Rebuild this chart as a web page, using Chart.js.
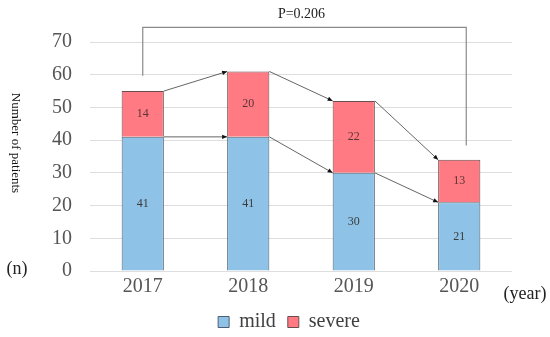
<!DOCTYPE html>
<html>
<head>
<meta charset="utf-8">
<script src="https://cdn.jsdelivr.net/npm/chart.js@4/dist/chart.umd.min.js"></script>
<style>
  html,body{margin:0;padding:0;background:#fff;}
  #wrap{width:550px;height:337px;position:relative;}
</style>
</head>
<body>
<div id="wrap"><canvas id="c" width="550" height="337"></canvas></div>
<script>
const categories = ['2017', '2018', '2019', '2020'];
const mildValues = [41, 41, 30, 21];
const severeValues = [14, 20, 22, 13];
const yTicks = [0, 10, 20, 30, 40, 50, 60, 70];
const pLabel = 'P=0.206';
const yTitle = 'Number of patients';

const SERIF = "'Liberation Serif', 'Times New Roman', serif";
Chart.defaults.font.family = SERIF;

const annotations = {
  id: 'annotations',
  afterLayout(chart) {
    if (chart.legend) { chart.legend.left += 13; chart.legend.right += 13; }
  },
  afterDatasetsDraw(chart) {
    const ctx = chart.ctx;
    const y = chart.scales.y;
    const mildMeta = chart.getDatasetMeta(0).data;
    const sevMeta = chart.getDatasetMeta(1).data;

    // value labels
    ctx.save();
    ctx.font = '12px ' + SERIF;
    ctx.textAlign = 'center';
    ctx.textBaseline = 'middle';
    mildMeta.forEach((b, i) => {
      ctx.fillStyle = '#3a3a3a';
      ctx.fillText(String(mildValues[i]), b.x, (b.y + b.base) / 2);
    });
    sevMeta.forEach((b, i) => {
      ctx.fillStyle = '#5a3535';
      ctx.fillText(String(severeValues[i]), b.x, (b.y + b.base) / 2);
    });
    ctx.restore();

    // connector arrows
    function arrow(x1, y1, x2, y2) {
      ctx.beginPath();
      ctx.moveTo(x1, y1);
      ctx.lineTo(x2, y2);
      ctx.stroke();
      const a = Math.atan2(y2 - y1, x2 - x1);
      const L = 5, W = 2.2;
      ctx.beginPath();
      ctx.moveTo(x2, y2);
      ctx.lineTo(x2 - L * Math.cos(a) + W * Math.sin(a), y2 - L * Math.sin(a) - W * Math.cos(a));
      ctx.lineTo(x2 - L * Math.cos(a) - W * Math.sin(a), y2 - L * Math.sin(a) + W * Math.cos(a));
      ctx.closePath();
      ctx.fill();
    }
    ctx.save();
    ctx.strokeStyle = '#555';
    ctx.fillStyle = '#111';
    ctx.lineWidth = 0.9;
    for (let i = 0; i < categories.length - 1; i++) {
      const a = sevMeta[i], b = sevMeta[i + 1];
      const aw = a.width / 2, bw = b.width / 2;
      arrow(a.x + aw, a.y, b.x - bw, b.y);
      const c = mildMeta[i], d = mildMeta[i + 1];
      arrow(c.x + aw, c.y, d.x - bw, d.y);
    }
    ctx.restore();

    // bracket
    const first = sevMeta[0], last = sevMeta[categories.length - 1];
    const lx = first.x, rx = last.x + 7;
    const topY = y.getPixelForValue(74.5);
    ctx.save();
    ctx.strokeStyle = '#8a8a8a';
    ctx.lineWidth = 1.2;
    ctx.beginPath();
    ctx.moveTo(lx, y.getPixelForValue(59.7));
    ctx.lineTo(lx, topY);
    ctx.lineTo(rx, topY);
    ctx.lineTo(rx, y.getPixelForValue(38.4));
    ctx.stroke();
    ctx.fillStyle = '#222';
    ctx.font = '14px ' + SERIF;
    ctx.textAlign = 'center';
    ctx.textBaseline = 'middle';
    ctx.fillText(pLabel, (lx + rx) / 2 - 3, topY - 13);
    ctx.restore();

    // axis titles
    ctx.save();
    ctx.fillStyle = '#111';
    ctx.font = '13px ' + SERIF;
    ctx.textAlign = 'center';
    ctx.textBaseline = 'middle';
    ctx.translate(15, 143);
    ctx.rotate(Math.PI / 2);
    ctx.fillText(yTitle, 0, 0);
    ctx.restore();

    ctx.save();
    ctx.fillStyle = '#222';
    ctx.font = '18px ' + SERIF;
    ctx.textAlign = 'center';
    ctx.textBaseline = 'middle';
    ctx.fillText('(n)', 17, y.getPixelForValue(0) - 2);
    ctx.fillText('(year)', 525, 294);
    ctx.restore();
  }
};

new Chart(document.getElementById('c'), {
  type: 'bar',
  data: {
    labels: categories,
    datasets: [
      { label: 'mild', data: mildValues, backgroundColor: '#8EC3E7', borderColor: '#4d5f70', borderWidth: 1, barPercentage: 0.5, categoryPercentage: 0.8 },
      { label: 'severe', data: severeValues, backgroundColor: '#FF7A82', borderColor: '#6a4d4d', borderWidth: 1, barPercentage: 0.5, categoryPercentage: 0.8 }
    ]
  },
  options: {
    responsive: false,
    animation: false,
    layout: { padding: { left: 40, right: 38, top: 42, bottom: -5 } },
    plugins: {
      legend: {
        position: 'bottom',
        labels: {
          boxWidth: 11, boxHeight: 11, padding: 12,
          color: '#404040',
          font: { family: SERIF, size: 20 }
        }
      },
      tooltip: { enabled: false }
    },
    scales: {
      x: {
        stacked: true,
        grid: { display: false, drawTicks: false },
        border: { display: false },
        ticks: { color: '#555', font: { family: SERIF, size: 20 }, padding: 4 },
        afterFit(s) { s.height = 29; }
      },
      y: {
        stacked: true,
        min: 0, max: 70,
        afterBuildTicks(s) { s.ticks = yTicks.map(v => ({ value: v })); },
        grid: { color: '#dedede', lineWidth: 1, drawTicks: false },
        border: { display: false },
        ticks: { color: '#555', font: { family: SERIF, size: 20 }, padding: 18 },
        afterFit(s) { s.width = 50; }
      }
    }
  },
  plugins: [annotations]
});
</script>
</body>
</html>
